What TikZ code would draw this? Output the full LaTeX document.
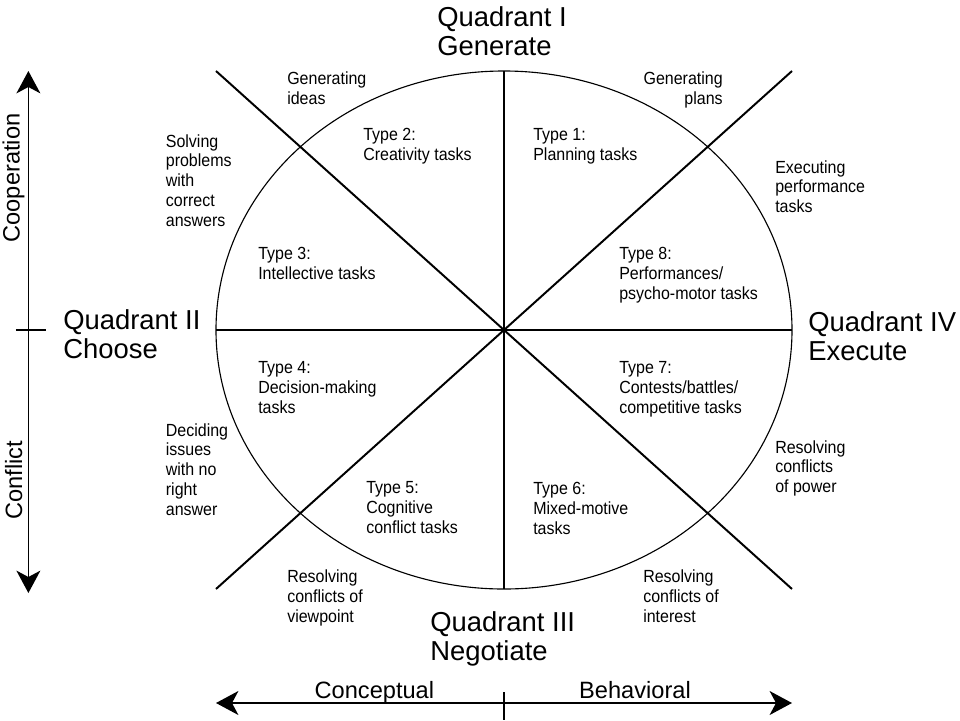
\documentclass[tikz,border=0pt]{standalone}
\usepackage{fontspec}
\setmainfont{Liberation Sans}
\newfontfamily\narrowsans{Liberation Sans}[FakeStretch=0.91]
\usepackage{tikz}
\usetikzlibrary{arrows.meta}
\tikzstyle{divider} = [line width=1.4pt, black]
\tikzstyle{rim} = [line width=0.8pt, black]
\tikzstyle{axisarrow} = [line width=1.1pt, {Stealth[length=5.6mm,width=6mm,inset=1.6mm]}-{Stealth[length=5.6mm,width=6mm,inset=1.6mm]}]
\tikzstyle{tasktext} = [inner sep=0pt, align=left, anchor=north west, font=\narrowsans\fontsize{12.5}{14.2}\selectfont]
\tikzstyle{quadtext} = [inner sep=0pt, align=left, anchor=north west, font=\fontsize{19.5}{21}\selectfont]
\tikzstyle{axistext} = [inner sep=0pt, font=\fontsize{16.8}{19}\selectfont]

\begin{document}
\begin{tikzpicture}
\useasboundingbox (-12.6,-9.75) rectangle (11.4,8.25);

% Circle and dividers
\coordinate (c) at (0,0);
\coordinate (n) at (0,6.475);
\coordinate (s) at (0,-6.475);
\coordinate (w) at (-7.2,0);
\coordinate (e) at (7.2,0);
\coordinate (nw) at (-7.2,6.475);
\coordinate (ne) at (7.2,6.475);
\coordinate (sw) at (-7.2,-6.475);
\coordinate (se) at (7.2,-6.475);
\draw[rim] (c) ellipse (7.2 and 6.475);
\draw[divider] (n) -- (s);
\draw[divider] (w) -- (e);
\draw[divider] (nw) -- (se);
\draw[divider] (ne) -- (sw);

% Quadrants
\node[quadtext] (q1) at (-1.675,8.1) {Quadrant I\\Generate};
\node[quadtext] (q2) at (-11.025,0.525) {Quadrant II\\Choose};
\node[quadtext] (q3) at (-1.85,-7.025) {Quadrant III\\Negotiate};
\node[quadtext] (q4) at (7.6,0.475) {Quadrant IV\\Execute};

% Task types
\node[tasktext] (t1) at (0.725,5.04) {Type 1:\\Planning tasks};
\node[tasktext] (t2) at (-3.525,5.04) {Type 2:\\Creativity tasks};
\node[tasktext] (t3) at (-6.15,2.07) {Type 3:\\Intellective tasks};
\node[tasktext] (t4) at (-6.15,-0.78) {Type 4:\\Decision-making\\tasks};
\node[tasktext] (t5) at (-3.45,-3.79) {Type 5:\\Cognitive\\conflict tasks};
\node[tasktext] (t6) at (0.725,-3.79) {Type 6:\\Mixed-motive\\tasks};
\node[tasktext] (t7) at (2.875,-0.78) {Type 7:\\Contests/battles/\\competitive tasks};
\node[tasktext] (t8) at (2.875,2.07) {Type 8:\\Performances/\\psycho-motor tasks};

% Outer notes
\node[tasktext] (ideas) at (-5.425,6.46) {Generating\\ideas};
\node[tasktext, align=right, anchor=north east] (plans) at (5.475,6.46) {Generating\\plans};
\node[tasktext] (solving) at (-8.46,4.9) {Solving\\problems\\with\\correct\\answers};
\node[tasktext] (executing) at (6.775,4.25) {Executing\\performance\\tasks};
\node[tasktext] (deciding) at (-8.46,-2.325) {Deciding\\issues\\with no\\right\\answer};
\node[tasktext] (power) at (6.775,-2.75) {Resolving\\conflicts\\of power};
\node[tasktext] (viewpoint) at (-5.425,-5.98) {Resolving\\conflicts of\\viewpoint};
\node[tasktext] (interest) at (3.475,-5.98) {Resolving\\conflicts of\\interest};

% Axes
\coordinate (coop) at (-11.89,6.475);
\coordinate (confl) at (-11.89,-6.575);
\coordinate (tkl) at (-12.2,0);
\coordinate (tkr) at (-11.45,0);
\draw[axisarrow] (confl) -- (coop);
\draw[line width=1.1pt] (tkl) -- (tkr);
\node[axistext, rotate=90] (cooplabel) at (-12.26,3.8) {Cooperation};
\node[axistext, rotate=90] (confllabel) at (-12.26,-3.75) {Conflict};

\coordinate (concept) at (-7.2,-9.325);
\coordinate (behav) at (7.2,-9.325);
\coordinate (tkt) at (0,-9.05);
\coordinate (tkb) at (0,-9.75);
\draw[axisarrow] (concept) -- (behav);
\draw[line width=1.1pt] (tkt) -- (tkb);
\node[axistext, anchor=base] (conceptlabel) at (-3.24,-9.2) {Conceptual};
\node[axistext, anchor=base] (behavlabel) at (3.275,-9.2) {Behavioral};
\end{tikzpicture}
\end{document}
